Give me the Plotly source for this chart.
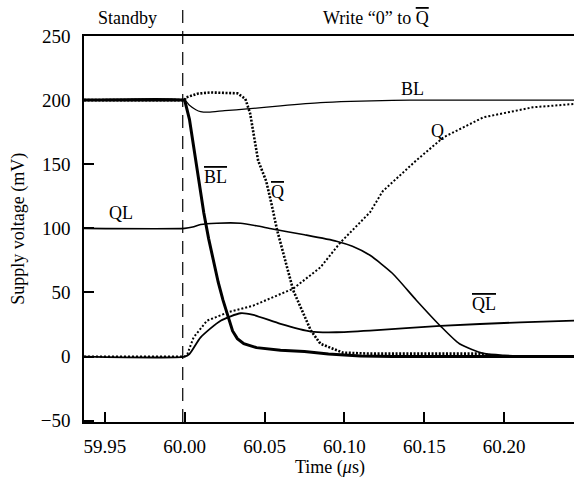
import plotly.graph_objects as go

T0 = 59.937
T1 = 60.2437

# BL (thin solid)
bl_t = [T0, 60.000, 60.003, 60.007, 60.010, 60.015, 60.025, 60.039, 60.060, 60.085, 60.104, 60.130, 60.150, T1]
bl_v = [200, 200, 196, 192.5, 191, 190.6, 191.8, 193.1, 195.5, 198.0, 199.0, 199.8, 200, 200]

# BL-bar (thick solid)
blb_t = [T0, 60.000, 60.003, 60.006, 60.009, 60.012, 60.015, 60.018, 60.021, 60.024, 60.027, 60.030, 60.033,
         60.037, 60.045, 60.060, 60.075, 60.090, 60.110, 60.130, T1]
blb_v = [200, 200, 185, 160, 135, 112, 92, 74, 58, 44, 31, 20, 14, 10, 7, 5, 4, 2, 0.5, 0, 0]

# Q-bar (thick dotted)
qb_t = [T0, 60.000, 60.0006, 60.008, 60.016, 60.033, 60.038, 60.041, 60.046, 60.051, 60.054, 60.058, 60.068,
        60.079, 60.085, 60.099, 60.116, 60.150, 60.185, 60.1975, T1]
qb_v = [200, 200, 202, 205, 206, 205.3, 201, 189.5, 152.8, 137, 121, 98, 51.5, 20.3, 10, 3.1, 2.3, 2.3, 2.3, 0, 0]

# Q (dotted)
q_t = [T0, 60.000, 60.0017, 60.0056, 60.014, 60.027, 60.043, 60.068, 60.085, 60.0975, 60.116, 60.124,
       60.145, 60.162, 60.187, 60.218, T1]
q_v = [0, 0, 2, 15, 28, 34.5, 39.8, 53, 69.6, 89, 112.5, 129, 153, 171, 186.6, 194.4, 197]

# QL (solid)
ql_t = [T0, 60.000, 60.005, 60.010, 60.020, 60.035, 60.045, 60.055, 60.075, 60.095, 60.105, 60.116, 60.130,
        60.145, 60.160, 60.172, 60.187, 60.200, 60.220, T1]
ql_v = [100, 100, 101, 103, 104, 104, 102, 99.5, 95, 90, 86, 79, 65, 44, 24, 10, 2.5, 1, 0.3, 0]

# QL-bar (solid)
qlb_t = [T0, 60.000, 60.003, 60.010, 60.0225, 60.035, 60.043, 60.060, 60.079, 60.095, 60.116, 60.160, 60.210, T1]
qlb_v = [0, 0, 2, 15, 28, 33.8, 32.5, 25.5, 19.5, 19, 20.3, 24, 26.7, 28]

x_ticks = [59.95, 60.00, 60.05, 60.10, 60.15, 60.20]
y_ticks = [-50, 0, 50, 100, 150, 200, 250]

FONT = "Times New Roman, Liberation Serif, DejaVu Serif, serif"

fig = go.Figure()
fig.add_trace(go.Scatter(x=q_t, y=q_v, mode="lines", line=dict(color="black", width=2, dash="2px,2px")))
fig.add_trace(go.Scatter(x=qlb_t, y=qlb_v, mode="lines", line=dict(color="black", width=1.8, shape="spline", smoothing=0.6)))
fig.add_trace(go.Scatter(x=ql_t, y=ql_v, mode="lines", line=dict(color="black", width=1.6, shape="spline", smoothing=0.6)))
fig.add_trace(go.Scatter(x=bl_t, y=bl_v, mode="lines", line=dict(color="black", width=1.2, shape="spline", smoothing=0.6)))
fig.add_trace(go.Scatter(x=qb_t, y=qb_v, mode="lines", line=dict(color="black", width=2.6, dash="2px,1.6px")))
fig.add_trace(go.Scatter(x=blb_t, y=blb_v, mode="lines", line=dict(color="black", width=3)))

fig.add_shape(type="line", xref="x", yref="paper", x0=59.9988, x1=59.9988, y0=0, y1=1.075,
              line=dict(color="black", width=1.2, dash="13px,8px"))

def ann(x, y, text, xref="x", yref="y", size=18, **kw):
    fig.add_annotation(x=x, y=y, xref=xref, yref=yref, text=text, showarrow=False,
                       xanchor="center", yanchor="middle",
                       font=dict(family=FONT, size=size, color="black"), **kw)

OV = '<span style="text-decoration:overline">{}</span>'
ann(60.1425, 209, "BL")
ann(60.0194, 140, OV.format("BL"))
ann(60.058, 128, OV.format("Q"))
ann(60.158, 176, "Q")
ann(59.96, 112, "QL")
ann(60.1875, 41, OV.format("QL"))
ann(59.9645, 1.047, "Standby", yref="paper")
ann(60.1195, 1.047, "Write “0” to " + OV.format("Q"), yref="paper")
ann(-0.135, 0.5, "Supply voltage (mV)", xref="paper", yref="paper", textangle=-90)
ann(0.502, -0.117, "Time (<i>μ</i>s)", xref="paper", yref="paper")

fig.update_layout(
    width=574, height=486,
    margin=dict(l=84, r=0, t=36, b=64),
    plot_bgcolor="white", paper_bgcolor="white",
    showlegend=False,
    font=dict(family=FONT, size=18, color="black"),
)
fig.update_xaxes(range=[T0, T1], tickvals=x_ticks, ticktext=[f"{v:.2f}" for v in x_ticks],
                 tickfont=dict(family=FONT, size=19),
                 ticks="inside", ticklen=10, tickwidth=1.5, tickcolor="black",
                 showline=True, linecolor="black", linewidth=1.5, mirror=True,
                 showgrid=False, zeroline=False, ticklabelstandoff=6)
fig.update_yaxes(range=[-51, 250], tickvals=y_ticks, ticktext=[("−50" if v < 0 else str(v)) for v in y_ticks],
                 tickfont=dict(family=FONT, size=19),
                 ticks="inside", ticklen=10, tickwidth=1.5, tickcolor="black",
                 showline=True, linecolor="black", linewidth=1.5,
                 showgrid=False, zeroline=False, ticklabelstandoff=8)

fig.write_html("out.html")
